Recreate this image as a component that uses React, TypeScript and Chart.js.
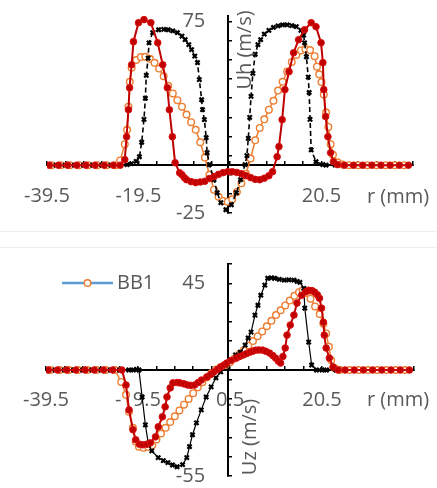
import React, { useEffect, useRef } from 'react';
import { Chart, registerables } from 'chart.js';

Chart.register(...registerables);

const FONT = "'Open Sans', sans-serif";
const TEXT = '#595959';

// ---- shared axis ticks ----
const xTicks = [-39.5, -35.5, -31.5, -27.5, -23.5, -19.5, -15.5, -11.5, -7.5, -3.5, 0.5, 4.5, 8.5, 12.5, 16.5, 20.5, 24.5, 28.5, 32.5, 36.5, 40.5];
const xLabelsTop = [-39.5, -19.5, 20.5];
const xLabelsBottom = [-39.5, -19.5, 0.5, 20.5];
const topYTicks = [-25, -15, -5, 5, 15, 25, 35, 45, 55, 65, 75];
const topYLabels = [-25, 25, 75];
const botYTicks = [-55, -45, -35, -25, -15, -5, 5, 15, 25, 35, 45, 55];
const botYLabels = [-55, 45];

// ---- top chart (Uh) ----
const topBlackR = [-39.5, -37.5, -35.5, -33.5, -31.5, -29.5, -27.5, -25.5, -23.5, -22, -21, -20, -19.3, -18.8, -18.3, -18, -17.8, -17.4, -17.2, -16.4, -15.1, -14, -13, -12, -11, -10, -9.3, -8.5, -7.9, -7.2, -6.6, -6.2, -5.7, -5.5, -5.1, -4.7, -4.5, -4, -3, -2.3, -1.5, -0.4, 0.8, 1.9, 2.8, 3.8, 4.2, 4.5, 4.8, 5.1, 5.5, 6, 6.6, 7.2, 8, 9, 10, 11, 12, 13, 14, 15, 16, 16.6, 16.8, 17.2, 17.6, 17.8, 18, 18.25, 19.3, 20.8, 21.5, 23.5, 25.5, 27.5, 29.5, 31.5, 33.5, 35.5, 37.5, 39.5];
const topBlackV = [0, 0, 0, 0, 0, 0, 0, 0, 0, 0.3, 0.8, 2, 4.4, 12, 24, 35, 47, 56, 64, 69.3, 70.8, 71, 70.8, 70.2, 69.3, 67.5, 65.6, 63, 60.4, 57, 53.6, 44.7, 34.2, 29, 23.8, 14.4, 6.5, 0.3, -7.6, -14.4, -19.6, -23.3, -20.7, -14.4, -7.6, 0.3, 5, 14, 25, 36, 48, 58, 63, 65.6, 68.5, 70.5, 72, 72.8, 73.4, 73.4, 73, 72.4, 70.5, 68, 64, 56.7, 46, 38, 24, 8, 1.8, 0.3, 0, 0, 0, 0, 0, 0, 0, 0, 0, 0];

const topOrangeR = [-38.5, -36.5, -34.5, -32.5, -30.5, -28.5, -26.5, -24.5, -23.5, -22.5, -22, -21.7, -21.4, -21, -20, -19, -18, -17, -16, -15, -14, -13, -12, -11, -10, -9, -8, -7, -6, -5, -4, -3, -2, -1, 0, 1, 2, 3, 4, 5, 6, 7, 8, 9, 10, 11, 12, 13, 14, 15, 16, 17, 18, 19, 19.5, 20, 20.5, 21, 21.5, 22, 22.5, 23, 24, 25, 26.5, 28.5, 30.5, 32.5, 34.5, 36.5, 38.5];
const topOrangeV = [0, 0, 0, 0, 0, 0, 0, 0, 2.5, 11, 18.5, 30.6, 43.6, 51, 55, 56.5, 56.7, 55.6, 53.5, 50.5, 46.5, 41.5, 37.5, 34, 30.6, 26.5, 22.5, 18.5, 12, 4, -5, -12.8, -16.5, -18.7, -19.1, -17.8, -14, -9.5, -4.5, 3.5, 13, 19.5, 24, 29, 33.7, 39, 43.6, 49, 54, 57.6, 60, 60.6, 60.2, 57, 51.5, 47.5, 43.5, 37, 27.5, 20, 11, 5.5, 1.5, 0.3, 0, 0, 0, 0, 0, 0, 0];

const topRedR = [-39, -37, -35, -33, -31, -29, -27, -25, -23.5, -22.5, -22.1, -21.7, -21.45, -21, -20.6, -19.5, -18.3, -16.8, -15.3, -14.2, -13.2, -12.75, -12.1, -11.5, -10.5, -10, -9.5, -9, -8, -7, -6, -5, -4, -3, -2, -1, 0, 1, 2, 3, 4, 5, 6, 7, 8, 9, 9.8, 10.8, 11.2, 11.9, 12.5, 13.4, 14.4, 15.5, 16.8, 18.25, 19.3, 20.4, 20.8, 21, 21.4, 21.9, 22.5, 23.1, 24, 25.5, 27.5, 29.5, 31.5, 33.5, 35.5, 37.5, 39.5];
const topRedV = [0, 0, 0, 0, 0, 0, 0, 0, 0, 2.9, 14.9, 29, 40.5, 52.5, 64.6, 74.5, 76.1, 74.5, 64, 52.5, 40.5, 29, 14.9, 1.3, -4, -5, -6.5, -7.6, -8.6, -9.1, -8.8, -8.4, -7, -6, -4.8, -3.9, -3.4, -3.4, -3.8, -4.5, -5.5, -6.5, -7.4, -7.6, -6.8, -5.5, -3.4, 4.4, 9.7, 23.8, 39.5, 48.9, 58.8, 65.6, 70.8, 74.5, 72.4, 64, 53.6, 39.5, 25.4, 14.9, 6.5, 1.8, 0.3, 0, 0, 0, 0, 0, 0, 0, 0];

// ---- bottom chart (Uz) ----
const botBlackR = [-39.5, -37.5, -35.5, -33.5, -31.5, -29.5, -27.5, -25.5, -23.5, -21.5, -20.5, -19.8, -19.3, -18.6, -17.9, -17.2, -16.5, -15.1, -14, -13, -12, -11, -9.8, -8.9, -8.3, -7.65, -6.8, -5.74, -4.68, -3.6, -2.56, -1.5, -0.43, 0.63, 1.7, 2.75, 3.8, 4.45, 5.08, 5.93, 6.57, 7.2, 8.06, 8.7, 9.5, 10.2, 11.2, 12.3, 13.3, 14.4, 15.1, 15.7, 16.55, 16.76, 17.6, 18.25, 19.3, 20.5, 21.5, 23.5, 25.5, 27.5, 29.5, 31.5, 33.5, 35.5, 37.5, 39.5];
const botBlackV = [0, 0, 0, 0, 0, 0, 0, 0, 0, 0, 0, 0.3, 0, -14, -28.5, -39, -42, -45.5, -47, -48.1, -49.3, -50.2, -49.1, -45.5, -39.8, -33.6, -27.4, -20.7, -14, -8.8, -4.1, -1, 2.6, 5.2, 7.8, 9.3, 12.9, 16.6, 19.7, 28.5, 33.6, 38.8, 44, 47.6, 47.8, 47.6, 47, 46.6, 46.8, 46.6, 46, 45.5, 42.4, 32.1, 14.5, 2.6, 0, 0, 0, 0, 0, 0, 0, 0, 0, 0, 0, 0];

const botOrangeR = [-38.5, -36.5, -34.5, -32.5, -30.5, -28.5, -26.5, -24.5, -23.15, -22.1, -21.45, -20.6, -20, -19.3, -18.3, -17.3, -16.4, -15.5, -14.5, -13.5, -12.5, -11.5, -10.5, -9.5, -8.5, -7.5, -6.5, -5.5, -4.5, -3.5, -2.5, -1.5, -0.5, 0.5, 1.5, 2.5, 3.5, 4.5, 5.5, 6.5, 7.5, 8.5, 9.5, 10.5, 11.5, 12.5, 13.5, 14.5, 15.5, 16.3, 17.2, 18, 19, 20, 20.8, 21.4, 22, 22.5, 23.2, 24.3, 26.5, 28.5, 30.5, 32.5, 34.5, 36.5, 38.5];
const botOrangeV = [0, 0, 0, 0, 0, 0, 0, 0, -6.2, -12.9, -21.7, -30, -37.2, -39.8, -40.4, -40, -39, -36, -33, -30, -27, -24, -21, -18, -15, -12, -9, -6.3, -3.8, -1.5, 0.3, 1.5, 2.6, 4, 6, 8, 10.3, 12.7, 15, 17.5, 20, 22.7, 25.5, 28.5, 31, 33.5, 36, 38.5, 40.4, 41.2, 40, 37, 33, 29, 24, 19, 12, 5, 1, 0, 0, 0, 0, 0, 0, 0, 0];

const botRedR = [-39, -37, -35, -33, -31, -29, -27, -25, -23, -22.1, -21.45, -20.6, -20, -19.2, -18.5, -17.6, -16.8, -15.7, -15.1, -14.2, -13.6, -13.2, -12.5, -11.9, -11, -10.4, -9.5, -8.7, -8, -7.2, -6.4, -5.7, -4.5, -3.7, -3, -2.2, -1.5, -0.8, -0.2, 0.8, 1.9, 2.6, 3.4, 4.1, 4.9, 5.5, 6.1, 6.8, 7.6, 8.3, 9.1, 9.8, 10.4, 11, 11.5, 12, 12.5, 12.9, 13.6, 14.4, 15.06, 16.1, 17, 17.6, 18.3, 18.9, 19.5, 19.95, 20.4, 20.8, 21, 21.4, 22.1, 22.9, 24, 25.5, 27.5, 29.5, 31.5, 33.5, 35.5, 37.5, 39.5];
const botRedV = [0, 0, 0, 0, 0, 0, 0, 0, 0, -7.8, -20.7, -31, -36.2, -38.5, -38.8, -38.5, -37.8, -34.7, -29.5, -24.3, -19.1, -14, -9.3, -6.7, -6.5, -6.7, -7.2, -7.8, -8, -7.8, -6.5, -5.2, -3.6, -2.3, -1, 0.3, 1.6, 2.6, 3.6, 5, 6.2, 7, 7.8, 8.5, 9.3, 9.8, 10.3, 10.4, 10.3, 9.7, 8.8, 7.5, 6.2, 4.6, 3.6, 7, 11.4, 18.1, 23.3, 28.5, 34.7, 38.8, 40.6, 41.4, 41.2, 40.4, 39, 37.2, 32.1, 24.8, 18.1, 11.4, 6.2, 1.6, 0, 0, 0, 0, 0, 0, 0, 0, 0];

const legendLabel = 'BB1';

const pts = (r: number[], v: number[]) => r.map((x, i) => ({ x, y: v[i] }));

const decorPlugin = {
  id: 'decor',
  afterDraw(chart: any, _args: any, o: any) {
    const ctx = chart.ctx;
    ctx.save();
    ctx.font = `20px ${FONT}`;
    ctx.fillStyle = TEXT;
    ctx.textAlign = 'center';
    ctx.textBaseline = 'middle';
    ctx.fillText(o.xTitle, o.xTitleX, o.xTitleY);
    ctx.save();
    ctx.translate(o.yTitleX, o.yTitleY);
    ctx.rotate(-Math.PI / 2);
    ctx.fillText(o.yTitle, 0, 0);
    ctx.restore();
    if (o.legend) {
      const { x1, x2, y } = o.legend;
      ctx.strokeStyle = '#5B9BD5';
      ctx.lineWidth = 2.5;
      ctx.beginPath();
      ctx.moveTo(x1, y);
      ctx.lineTo(x2, y);
      ctx.stroke();
      ctx.beginPath();
      ctx.arc((x1 + x2) / 2, y, 3.3, 0, Math.PI * 2);
      ctx.fillStyle = '#ffffff';
      ctx.fill();
      ctx.strokeStyle = '#ED7D31';
      ctx.lineWidth = 1.5;
      ctx.stroke();
      ctx.fillStyle = TEXT;
      ctx.textAlign = 'left';
      ctx.fillText(o.legend.text, x2 + 4, y);
    }
    ctx.restore();
  },
};

function buildConfig(p: any) {
  const tickFont = { size: 20, family: FONT };
  const setTicks = (vals: number[]) => (s: any) => {
    s.ticks = vals.map((v) => ({ value: v }));
  };
  const datasets = [
    {
      label: 'red',
      data: pts(p.red[0], p.red[1]),
      showLine: true,
      borderColor: '#C00000',
      borderWidth: 2,
      pointStyle: 'circle',
      pointRadius: 3.3,
      pointBackgroundColor: '#C00000',
      pointBorderColor: '#D81010',
      pointBorderWidth: 1,
      order: 1,
    },
    {
      label: 'black',
      data: pts(p.black[0], p.black[1]),
      showLine: true,
      borderColor: '#000000',
      borderWidth: p.blackDash ? 1.6 : 1.2,
      borderDash: p.blackDash ? [5, 3] : [],
      pointStyle: 'crossRot',
      pointRadius: 3,
      pointBorderColor: '#000000',
      pointBorderWidth: 2.2,
      order: 2,
    },
    {
      label: legendLabel,
      data: pts(p.orange[0], p.orange[1]),
      showLine: true,
      borderColor: '#ED7D31',
      borderWidth: 1.5,
      pointStyle: 'circle',
      pointRadius: 3.3,
      pointBackgroundColor: '#FFFFFF',
      pointBorderColor: '#ED7D31',
      pointBorderWidth: 1.4,
      order: 3,
    },
  ];
  return {
    type: 'scatter',
    data: { datasets },
    options: {
      animation: false,
      responsive: false,
      maintainAspectRatio: false,
      layout: { padding: p.padding },
      plugins: {
        legend: { display: false },
        tooltip: { enabled: false },
        decor: p.decor,
      },
      scales: {
        x: {
          type: 'linear',
          min: -39.5,
          max: 40.5,
          position: { y: 0 },
          afterBuildTicks: setTicks(xTicks),
          ticks: {
            autoSkip: false,
            maxRotation: 0,
            minRotation: 0,
            padding: p.xPad,
            color: TEXT,
            font: tickFont,
            callback: (v: number) => (p.xLabels.includes(v) ? String(v) : ''),
          },
          grid: { drawOnChartArea: false, drawTicks: true, tickLength: -5, color: '#000', lineWidth: 1.5 },
          border: { display: true, color: '#000', width: 2 },
        },
        y: {
          type: 'linear',
          min: p.yMin,
          max: p.yMax,
          position: { x: 0 },
          afterBuildTicks: setTicks(p.yTicks),
          ticks: { display: false },
          grid: { drawOnChartArea: false, drawTicks: true, tickLength: -5, color: '#000', lineWidth: 1.5 },
          border: { display: true, color: '#000', width: 2 },
        },
        yl: {
          type: 'linear',
          axis: 'y',
          min: p.yMin,
          max: p.yMax,
          position: { x: -4.9 },
          afterBuildTicks: setTicks(p.yTicks),
          ticks: {
            padding: 0,
            color: TEXT,
            font: tickFont,
            callback: (v: number) => (p.yLabels.includes(v) ? String(v) : ''),
          },
          grid: { display: false },
          border: { display: false },
        },
      },
    },
    plugins: [decorPlugin],
  };
}

function ChartCanvas({ top, height, spec }: { top: number; height: number; spec: any }) {
  const ref = useRef<HTMLCanvasElement | null>(null);
  useEffect(() => {
    if (!ref.current) return;
    const chart = new Chart(ref.current, buildConfig(spec) as any);
    return () => chart.destroy();
  }, []);
  return (
    <canvas
      ref={ref}
      width={437}
      height={height}
      style={{ position: 'absolute', left: 0, top, width: 437, height, display: 'block' }}
    />
  );
}

const topSpec = {
  black: [topBlackR, topBlackV],
  orange: [topOrangeR, topOrangeV],
  red: [topRedR, topRedV],
  blackDash: true,
  yMin: -25,
  yMax: 78,
  yTicks: topYTicks,
  yLabels: topYLabels,
  xLabels: xLabelsTop,
  xPad: 24,
  padding: { left: 38, right: 22, top: 16, bottom: 18 },
  decor: { xTitle: 'r (mm)', xTitleX: 398, xTitleY: 197, yTitle: 'Uh (m/s)', yTitleX: 245, yTitleY: 50 },
};

const bottomSpec = {
  black: [botBlackR, botBlackV],
  orange: [botOrangeR, botOrangeV],
  red: [botRedR, botRedV],
  blackDash: false,
  yMin: -55,
  yMax: 55,
  yTicks: botYTicks,
  yLabels: botYLabels,
  xLabels: xLabelsBottom,
  xPad: 23,
  padding: { left: 38, right: 22, top: 17, bottom: 12 },
  decor: {
    xTitle: 'r (mm)', xTitleX: 398, xTitleY: 153,
    yTitle: 'Uz (m/s)', yTitleX: 250, yTitleY: 190,
    legend: { x1: 62, x2: 113, y: 36, text: legendLabel },
  },
};

export default function App() {
  return (
    <div style={{ position: 'absolute', left: 0, top: 0, width: 437, height: 488, background: '#ffffff', overflow: 'hidden' }}>
      <ChartCanvas top={0} height={231} spec={topSpec} />
      <div style={{ position: 'absolute', left: 0, top: 231, width: 437, height: 1, background: '#eeeeee' }} />
      <div style={{ position: 'absolute', left: 0, top: 247, width: 437, height: 1, background: '#eeeeee' }} />
      <ChartCanvas top={247} height={241} spec={bottomSpec} />
    </div>
  );
}
